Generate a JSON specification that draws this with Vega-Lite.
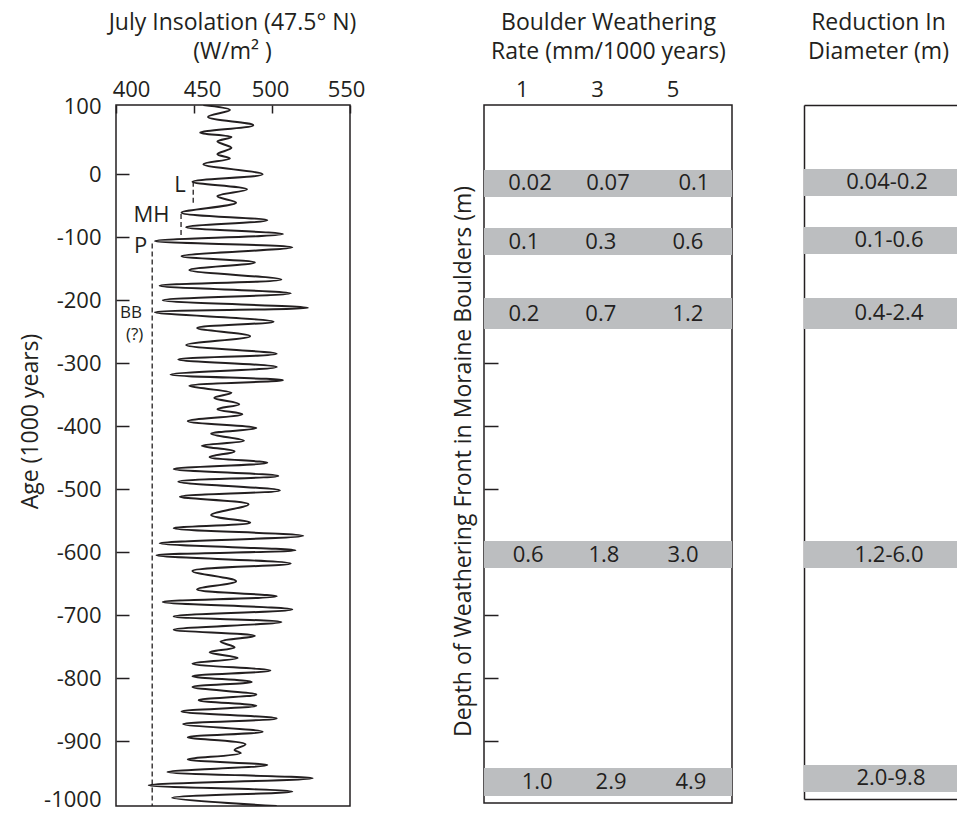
{
  "$schema": "https://vega.github.io/schema/vega-lite/v6.json",
  "padding": {"left": 18, "top": 10, "right": 0, "bottom": 3},
  "spacing": 85,
  "config": {
    "font": "Open Sans",
    "view": {"stroke": "#231f20", "strokeWidth": 1.5},
    "axis": {
      "grid": false, "domain": false, "zindex": 1,
      "labelFont": "Open Sans", "titleFont": "Open Sans",
      "labelColor": "#231f20", "titleColor": "#231f20",
      "tickColor": "#231f20", "domainColor": "#231f20",
      "labelFontSize": 22, "titleFontSize": 23, "titleFontWeight": "normal",
      "tickWidth": 1.5, "domainWidth": 1.5
    }
  },
  "hconcat": [
    {
      "width": 234,
      "height": 701,
      "encoding": {
        "x": {
          "field": "insol", "type": "quantitative",
          "scale": {"domain": [400, 550], "nice": false, "zero": false},
          "axis": {
            "orient": "top", "values": [400, 450, 500, 550],
            "tickSize": -8, "labelPadding": 12, "labelFlush": false,
            "labelOffset": {"condition": [
              {"test": "datum.value == 400", "value": 15},
              {"test": "datum.value == 450", "value": 8},
              {"test": "datum.value == 500", "value": -2}
            ], "value": -4},
            "title": ["July Insolation (47.5° N)", "(W/m² )"],
            "titleBaseline": "top", "titleY": -94, "titleX": 116, "titleLineHeight": 29
          }
        },
        "y": {
          "field": "age", "type": "quantitative",
          "scale": {"domain": [-1003, 110], "nice": false, "zero": false},
          "axis": {
            "values": [100, 0, -100, -200, -300, -400, -500, -600, -700, -800, -900, -1000],
            "tickSize": -13, "labelPadding": 28,
            "labelExpr": "datum.value + ''",
            "labelOffset": {"condition": [
              {"test": "datum.value == 100", "value": -5},
              {"test": "datum.value == -1000", "value": -5}
            ], "value": 0},
            "tickOpacity": {"condition": {"test": "datum.value == 100 || datum.value == -1000", "value": 0}, "value": 1},
            "title": "Age (1000 years)",
            "titleX": -86, "titleY": 316, "titleBaseline": "middle"
          }
        }
      },
      "layer": [
        {
          "data": {"values": [
            {"insol": 456, "age": 110}, {"insol": 473, "age": 102}, {"insol": 459, "age": 91}, {"insol": 488, "age": 78},
            {"insol": 454, "age": 66}, {"insol": 474, "age": 59}, {"insol": 465, "age": 52}, {"insol": 474, "age": 42},
            {"insol": 465, "age": 32}, {"insol": 473, "age": 25}, {"insol": 456, "age": 16}, {"insol": 494, "age": 0},
            {"insol": 449, "age": -12}, {"insol": 484, "age": -24}, {"insol": 465, "age": -35}, {"insol": 477, "age": -45},
            {"insol": 442, "age": -61}, {"insol": 497, "age": -73}, {"insol": 445, "age": -84}, {"insol": 507, "age": -95},
            {"insol": 425, "age": -106}, {"insol": 513, "age": -116}, {"insol": 442, "age": -130}, {"insol": 489, "age": -140},
            {"insol": 447, "age": -152}, {"insol": 506, "age": -167}, {"insol": 428, "age": -177}, {"insol": 512, "age": -189},
            {"insol": 430, "age": -200}, {"insol": 523, "age": -212}, {"insol": 425, "age": -219}, {"insol": 501, "age": -234},
            {"insol": 452, "age": -244}, {"insol": 486, "age": -257}, {"insol": 445, "age": -271}, {"insol": 503, "age": -285},
            {"insol": 440, "age": -294}, {"insol": 503, "age": -306}, {"insol": 435, "age": -318}, {"insol": 507, "age": -327},
            {"insol": 447, "age": -336}, {"insol": 474, "age": -347}, {"insol": 463, "age": -355}, {"insol": 479, "age": -365},
            {"insol": 465, "age": -373}, {"insol": 481, "age": -381}, {"insol": 446, "age": -392}, {"insol": 490, "age": -403},
            {"insol": 461, "age": -412}, {"insol": 482, "age": -423}, {"insol": 455, "age": -431}, {"insol": 476, "age": -440},
            {"insol": 460, "age": -449}, {"insol": 497, "age": -458}, {"insol": 437, "age": -468}, {"insol": 504, "age": -479},
            {"insol": 440, "age": -488}, {"insol": 505, "age": -502}, {"insol": 441, "age": -512}, {"insol": 485, "age": -524},
            {"insol": 461, "age": -541}, {"insol": 486, "age": -553}, {"insol": 437, "age": -562}, {"insol": 520, "age": -574},
            {"insol": 428, "age": -586}, {"insol": 515, "age": -597}, {"insol": 426, "age": -605}, {"insol": 512, "age": -618},
            {"insol": 449, "age": -630}, {"insol": 477, "age": -646}, {"insol": 452, "age": -659}, {"insol": 503, "age": -670},
            {"insol": 430, "age": -679}, {"insol": 513, "age": -691}, {"insol": 437, "age": -702}, {"insol": 506, "age": -711},
            {"insol": 437, "age": -723}, {"insol": 489, "age": -733}, {"insol": 467, "age": -742}, {"insol": 476, "age": -751},
            {"insol": 460, "age": -759}, {"insol": 478, "age": -768}, {"insol": 449, "age": -777}, {"insol": 499, "age": -788},
            {"insol": 449, "age": -797}, {"insol": 487, "age": -806}, {"insol": 449, "age": -814}, {"insol": 490, "age": -826},
            {"insol": 453, "age": -835}, {"insol": 490, "age": -844}, {"insol": 442, "age": -853}, {"insol": 503, "age": -864},
            {"insol": 443, "age": -873}, {"insol": 494, "age": -885}, {"insol": 446, "age": -894}, {"insol": 483, "age": -905},
            {"insol": 476, "age": -914}, {"insol": 480, "age": -919}, {"insol": 446, "age": -929}, {"insol": 497, "age": -938},
            {"insol": 433, "age": -949}, {"insol": 526, "age": -959}, {"insol": 421, "age": -970}, {"insol": 513, "age": -980},
            {"insol": 436, "age": -990}, {"insol": 503, "age": -1003}
          ]},
          "mark": {"type": "line", "interpolate": "catmull-rom", "color": "#231f20", "strokeWidth": 2, "clip": true},
          "encoding": {"order": {"field": "age", "type": "quantitative", "sort": "descending"}}
        },
        {
          "data": {"values": [
            {"insol": 449.5, "age": -12, "age2": -50},
            {"insol": 441.7, "age": -63, "age2": -101},
            {"insol": 423.2, "age": -110, "age2": -1003}
          ]},
          "mark": {"type": "rule", "strokeDash": [5, 3], "color": "#231f20", "strokeWidth": 1.3},
          "encoding": {"y2": {"field": "age2"}}
        },
        {
          "data": {"values": [
            {"insol": 441, "age": -17, "label": "L"},
            {"insol": 422.8, "age": -64, "label": "MH"},
            {"insol": 415.7, "age": -114, "label": "P"}
          ]},
          "mark": {"type": "text", "font": "Open Sans", "fontSize": 22, "color": "#231f20"},
          "encoding": {"text": {"field": "label"}}
        },
        {
          "data": {"values": [
            {"insol": 409.6, "age": -221, "label": "BB"},
            {"insol": 411.9, "age": -255, "label": "(?)"}
          ]},
          "mark": {"type": "text", "font": "Open Sans", "fontSize": 17, "color": "#231f20"},
          "encoding": {"text": {"field": "label"}}
        }
      ]
    },
    {
      "spacing": 71,
      "hconcat": [
        {
          "width": 248,
          "height": 698,
          "encoding": {
            "y": {
              "field": "age", "type": "quantitative",
              "scale": {"domain": [-998, 110], "nice": false, "zero": false},
              "axis": {
                "values": [0, -100, -200, -300, -400, -500, -600, -700, -800, -900],
                "tickSize": -14, "labels": false,
                "title": "Depth of Weathering Front in Moraine Boulders (m)",
                "titleX": -21, "titleY": 356, "titleBaseline": "middle"
              }
            }
          },
          "layer": [
            {
              "data": {"values": [
                {"age": 6.8, "age2": -36.1},
                {"age": -85.3, "age2": -128.2},
                {"age": -196.4, "age2": -245.6},
                {"age": -582.2, "age2": -625.1},
                {"age": -942.6, "age2": -987.0}
              ]},
              "mark": {"type": "rect", "color": "#bcbec0"},
              "encoding": {"y2": {"field": "age2"}}
            },
            {
              "data": {"values": [
                {"col": 1.22, "age": -14.6, "label": "0.02"},
                {"col": 3.29, "age": -14.6, "label": "0.07"},
                {"col": 5.57, "age": -14.6, "label": "0.1"},
                {"col": 1.06, "age": -106.7, "label": "0.1"},
                {"col": 3.10, "age": -106.7, "label": "0.3"},
                {"col": 5.41, "age": -106.7, "label": "0.6"},
                {"col": 1.06, "age": -221, "label": "0.2"},
                {"col": 3.10, "age": -221, "label": "0.7"},
                {"col": 5.41, "age": -221, "label": "1.2"},
                {"col": 1.17, "age": -603.7, "label": "0.6"},
                {"col": 3.18, "age": -603.7, "label": "1.8"},
                {"col": 5.28, "age": -603.7, "label": "3.0"},
                {"col": 1.41, "age": -964.9, "label": "1.0"},
                {"col": 3.37, "age": -964.9, "label": "2.9"},
                {"col": 5.49, "age": -964.9, "label": "4.9"}
              ]},
              "mark": {"type": "text", "font": "Open Sans", "fontSize": 22, "color": "#231f20"},
              "encoding": {
                "x": {
                  "field": "col", "type": "quantitative",
                  "scale": {"domain": [0, 6.58], "nice": false, "zero": false},
                  "axis": {
                    "orient": "top", "values": [1, 3, 5], "ticks": false, "labelPadding": 4, "labelFlush": false,
                    "title": ["Boulder Weathering", "Rate (mm/1000 years)"],
                    "titleBaseline": "top", "titleY": -94, "titleLineHeight": 29
                  }
                },
                "text": {"field": "label"}
              }
            }
          ]
        },
        {
          "width": 153,
          "height": 694,
          "view": {"stroke": null},
          "encoding": {
            "y": {
              "field": "age", "type": "quantitative",
              "scale": {"domain": [-992, 110], "nice": false, "zero": false},
              "axis": {"domain": true, "ticks": false, "labels": false, "title": null}
            }
          },
          "layer": [
            {
              "data": {"values": [
                {"age": 8.4, "age2": -34.5},
                {"age": -83.7, "age2": -126.6},
                {"age": -196.4, "age2": -245.6},
                {"age": -582.2, "age2": -625.1},
                {"age": -937.9, "age2": -980.8}
              ]},
              "mark": {"type": "rect", "color": "#bcbec0"},
              "encoding": {"y2": {"field": "age2"}}
            },
            {
              "data": {"values": [
                {"pos": 83, "age": -13, "label": "0.04-0.2"},
                {"pos": 85, "age": -105, "label": "0.1-0.6"},
                {"pos": 85, "age": -221, "label": "0.4-2.4"},
                {"pos": 85, "age": -604, "label": "1.2-6.0"},
                {"pos": 87, "age": -959, "label": "2.0-9.8"}
              ]},
              "mark": {"type": "text", "font": "Open Sans", "fontSize": 22, "color": "#231f20"},
              "encoding": {
                "x": {
                  "field": "pos", "type": "quantitative",
                  "scale": {"domain": [0, 153], "nice": false, "zero": false},
                  "axis": {
                    "orient": "top", "domain": true, "ticks": false, "labels": false,
                    "title": ["Reduction In", "Diameter (m)"],
                    "titleBaseline": "top", "titleY": -94, "titleX": 74, "titleLineHeight": 29
                  }
                },
                "text": {"field": "label"}
              }
            },
            {
              "data": {"values": [{"pos": 0, "age": 0}]},
              "mark": {"type": "text", "text": "", "opacity": 0},
              "encoding": {
                "x": {
                  "field": "pos", "type": "quantitative",
                  "axis": {"orient": "bottom", "domain": true, "ticks": false, "labels": false, "title": null}
                }
              }
            }
          ],
          "resolve": {"axis": {"x": "independent"}}
        }
      ]
    }
  ]
}
